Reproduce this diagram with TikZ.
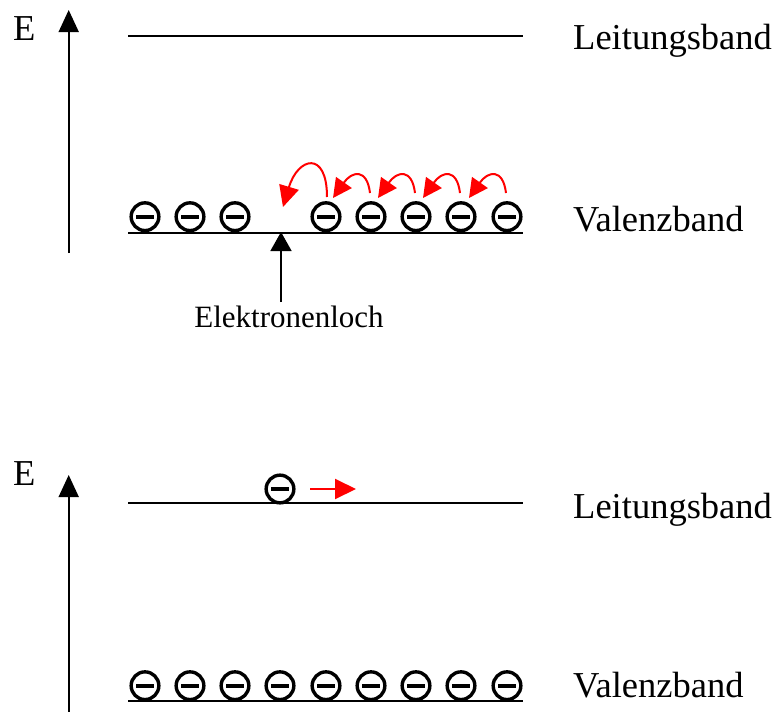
\documentclass[tikz,border=0pt]{standalone}
\usepackage{fontspec}
\setmainfont{Liberation Serif}
\usetikzlibrary{arrows.meta}
\tikzset{
  band/.style={line width=1.6pt},
  axis/.style={line width=1.6pt,-{Triangle[length=22pt,width=20pt]}},
  electron/.style={circle,draw,line width=3.4pt,minimum size=27.7pt,inner sep=0pt},
  minusbar/.style={line width=4.2pt},
  label/.style={inner sep=0pt,anchor=base west,font=\fontsize{36.5}{40}\selectfont},
  hop/.style={red,line width=2pt,-{Triangle[length=19pt,width=19pt]}},
}
\begin{document}
\begin{tikzpicture}[x=1pt,y=-1pt]
\useasboundingbox (0,0) rectangle (779,712);

% ---------- upper diagram: hole conduction in the valence band ----------
\coordinate (ea1) at (68.7,253);
\coordinate (et1) at (68.7,10);
\draw[axis] (ea1) -- (et1);
\node[label] (E1) at (13,40) {E};

\coordinate (cb1l) at (128,36);
\coordinate (cb1r) at (523,36);
\draw[band] (cb1l) -- (cb1r);
\node[label] (lb1) at (573,49.3) {Leitungsband};

\coordinate (vb1l) at (128,233);
\coordinate (vb1r) at (523,233);
\draw[band] (vb1l) -- (vb1r);
\node[label] (vl1) at (573,231) {Valenzband};

\foreach \n/\x in {a/145,b/190,c/235,d/326,e/371,f/416,g/461,h/507}{
  \node[electron] (t\n) at (\x,216.7) {};
  \draw[minusbar] ([xshift=-9pt]t\n.center) -- ([xshift=9pt]t\n.center);
}

% hole marker
\coordinate (hole) at (281,232);
\coordinate (holefoot) at (281,302);
\draw[line width=1.6pt,-{Triangle[length=19pt,width=21pt]}] (holefoot) -- (hole);
\node[inner sep=0pt,anchor=base,font=\fontsize{31}{34}\selectfont] (hl) at (289,327) {Elektronenloch};

% electrons hopping into the hole
\coordinate (jump0) at (327,197);
\coordinate (land0) at (283,207);
\draw[hop,-{Triangle[length=21pt,width=20pt]}] (jump0) .. controls (327,150) and (298,157) .. (land0);
\foreach \s/\t in {e/d,f/e,g/f,h/g}{
  \draw[hop] ([xshift=-1pt,yshift=23.7pt]t\s.center)
     .. controls +(-3,-25) and +(19,-27) .. ++(-37,5);
}

% ---------- lower diagram: electron in the conduction band ----------
\coordinate (ea2) at (68.7,712);
\coordinate (et2) at (68.7,475);
\draw[axis] (ea2) -- (et2);
\node[label] (E2) at (13,485) {E};

\coordinate (cb2l) at (128,503);
\coordinate (cb2r) at (523,503);
\draw[band] (cb2l) -- (cb2r);
\node[label] (lb2) at (573,518.3) {Leitungsband};

\node[electron] (free) at (280,489) {};
\draw[minusbar] ([xshift=-9pt]free.center) -- ([xshift=9pt]free.center);
\coordinate (drift) at (356,489);
\draw[red,line width=2pt,-{Triangle[length=21pt,width=20pt]}] ([xshift=30pt]free.center) -- (drift);

\coordinate (vb2l) at (128,700.7);
\coordinate (vb2r) at (523,700.7);
\draw[band] (vb2l) -- (vb2r);
\node[label] (vl2) at (573,697.7) {Valenzband};

\foreach \n/\x in {a/145,b/190,c/235,d/280,e/326,f/371,g/416,h/461,i/507}{
  \node[electron] (b\n) at (\x,685.7) {};
  \draw[minusbar] ([xshift=-9pt]b\n.center) -- ([xshift=9pt]b\n.center);
}
\end{tikzpicture}
\end{document}
